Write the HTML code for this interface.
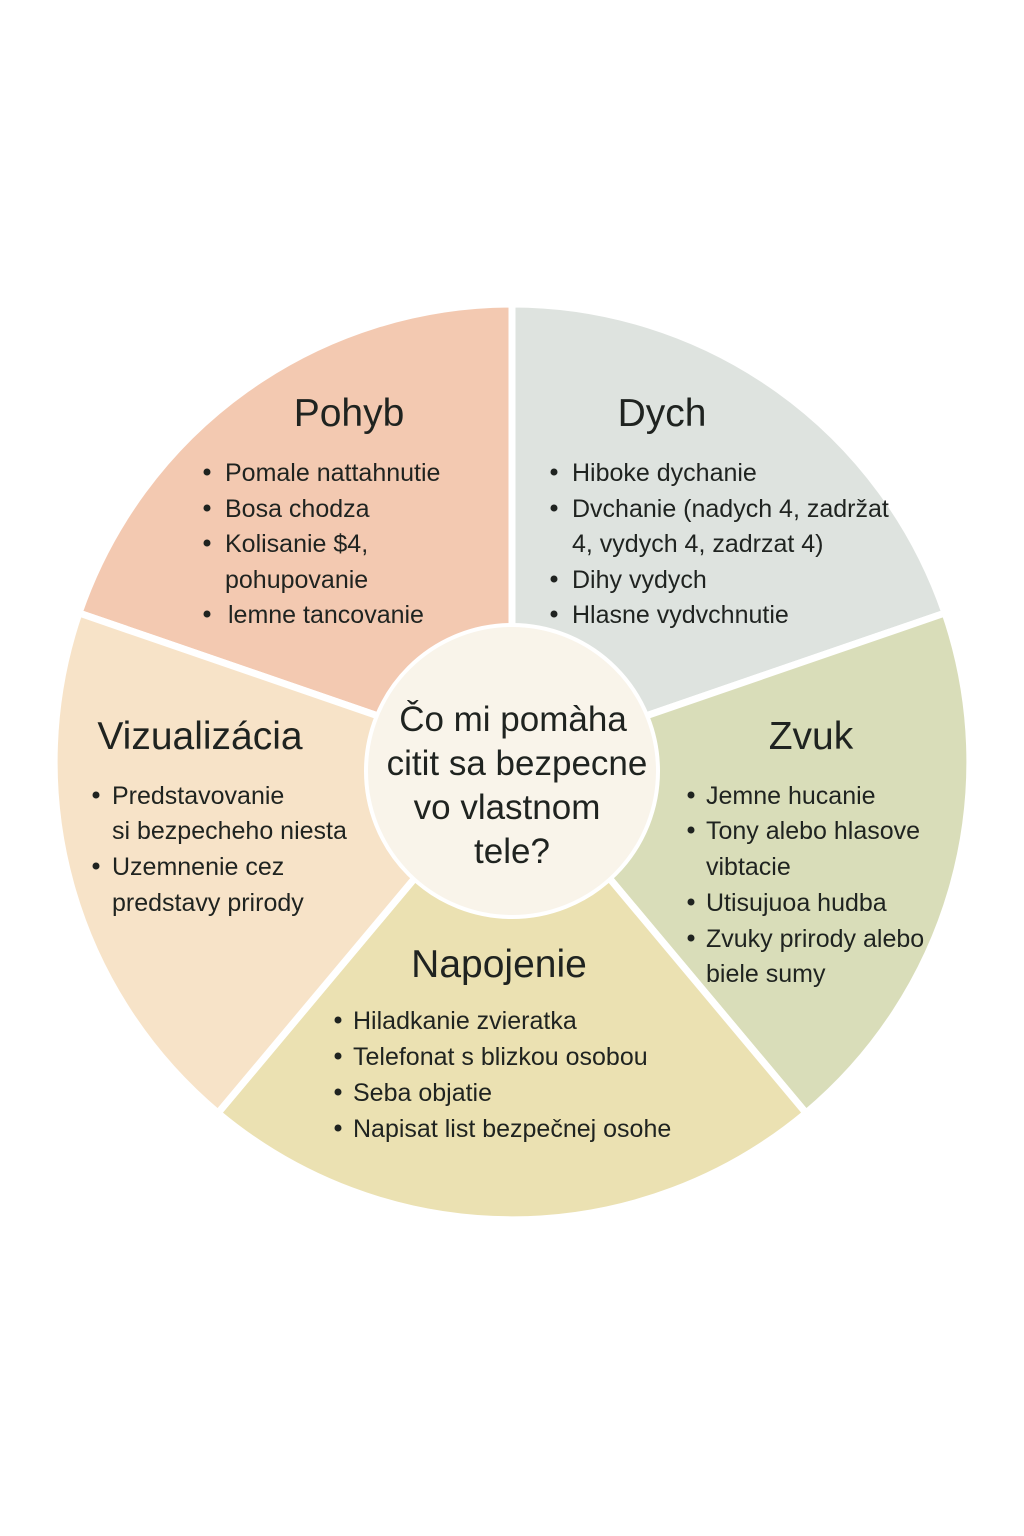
<!DOCTYPE html>
<html><head><meta charset="utf-8"><style>
html,body{margin:0;padding:0;background:#fff;}
svg{display:block}
text{font-family:"Liberation Sans","DejaVu Sans",sans-serif;fill:#1f2320}
.t{font-size:39px}
.b{font-size:25px}
circle.d{fill:#1f2320}
</style></head><body>
<svg width="1024" height="1536" viewBox="0 0 1024 1536">
<g stroke="#fff" stroke-width="7" stroke-linejoin="round">
<path d="M512,762 L512,304 A458,458 0 0 0 79,613 Z" fill="#f3c9b1"/>
<path d="M512,762 L512,304 A458,458 0 0 1 945,613 Z" fill="#dee3df"/>
<path d="M512,762 L945,613 A458,458 0 0 1 806,1113 Z" fill="#d9ddb9"/>
<path d="M512,762 L806,1113 A458,458 0 0 1 218,1113 Z" fill="#ebe1b2"/>
<path d="M512,762 L218,1113 A458,458 0 0 1 79,613 Z" fill="#f7e3c8"/>
</g>
<circle cx="512" cy="771" r="146" fill="#f9f4ea" stroke="#fff" stroke-width="4"/>
<g text-anchor="middle" style="font-size:35px">
<text x="513" y="731">Čo mi pomàha</text>
<text x="517" y="775">citit sa bezpecne</text>
<text x="507" y="819">vo vlastnom</text>
<text x="512" y="863">tele?</text>
</g>
<text class="t" x="349" y="426" text-anchor="middle">Pohyb</text>
<g class="b">
<circle class="d" cx="207" cy="472" r="3.5"/><text x="225" y="481">Pomale nattahnutie</text>
<circle class="d" cx="207" cy="508" r="3.5"/><text x="225" y="517">Bosa chodza</text>
<circle class="d" cx="207" cy="543" r="3.5"/><text x="225" y="552">Kolisanie $4,</text>
<text x="225" y="588">pohupovanie</text>
<circle class="d" cx="207" cy="614" r="3.5"/><text x="228" y="623">lemne tancovanie</text>
</g>
<text class="t" x="662" y="426" text-anchor="middle">Dych</text>
<g class="b">
<circle class="d" cx="554" cy="472" r="3.5"/><text x="572" y="481">Hiboke dychanie</text>
<circle class="d" cx="554" cy="508" r="3.5"/><text x="572" y="517">Dvchanie (nadych 4, zadržat</text>
<text x="572" y="552">4, vydych 4, zadrzat 4)</text>
<circle class="d" cx="554" cy="579" r="3.5"/><text x="572" y="588">Dihy vydych</text>
<circle class="d" cx="554" cy="614" r="3.5"/><text x="572" y="623">Hlasne vydvchnutie</text>
</g>
<text class="t" x="200" y="749" text-anchor="middle">Vizualizácia</text>
<g class="b">
<circle class="d" cx="96" cy="795" r="3.5"/><text x="112" y="804">Predstavovanie</text>
<text x="112" y="839">si bezpecheho niesta</text>
<circle class="d" cx="96" cy="866" r="3.5"/><text x="112" y="875">Uzemnenie cez</text>
<text x="112" y="911">predstavy prirody</text>
</g>
<text class="t" x="811" y="749" text-anchor="middle">Zvuk</text>
<g class="b">
<circle class="d" cx="691" cy="795" r="3.5"/><text x="706" y="804">Jemne hucanie</text>
<circle class="d" cx="691" cy="830" r="3.5"/><text x="706" y="839">Tony alebo hlasove</text>
<text x="706" y="875">vibtacie</text>
<circle class="d" cx="691" cy="902" r="3.5"/><text x="706" y="911">Utisujuoa hudba</text>
<circle class="d" cx="691" cy="938" r="3.5"/><text x="706" y="947">Zvuky prirody alebo</text>
<text x="706" y="982">biele sumy</text>
</g>
<text class="t" x="499" y="977" text-anchor="middle">Napojenie</text>
<g class="b">
<circle class="d" cx="338" cy="1020" r="3.5"/><text x="353" y="1029">Hiladkanie zvieratka</text>
<circle class="d" cx="338" cy="1056" r="3.5"/><text x="353" y="1065">Telefonat s blizkou osobou</text>
<circle class="d" cx="338" cy="1092" r="3.5"/><text x="353" y="1101">Seba objatie</text>
<circle class="d" cx="338" cy="1128" r="3.5"/><text x="353" y="1137">Napisat list bezpečnej osohe</text>
</g>
</svg>
</body></html>
